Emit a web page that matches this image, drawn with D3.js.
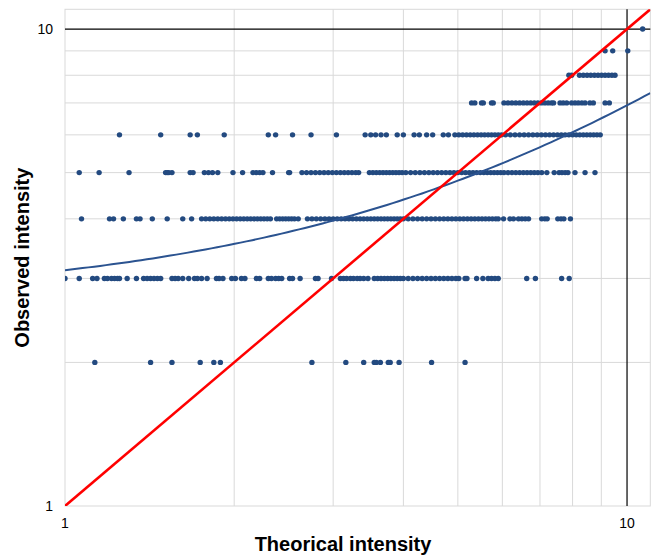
<!DOCTYPE html>
<meta charset="utf-8">
<style>
  body { margin: 0; background: #fff; }
  text { font-family: "Liberation Sans", Arial, sans-serif; fill: #000; }
  .tick { font-size: 14px; }
  .title { font-size: 20px; font-weight: bold; }
</style>
<body>
<script src="https://cdn.jsdelivr.net/npm/d3@7"></script>
<script>

// observed intensity levels and the theorical intensities seen at each level
var obs2 = [1.13, 1.42, 1.55, 1.74, 1.84, 1.89, 2.75, 3.16, 3.40, 3.55, 3.58, 3.64, 3.76, 3.79, 3.93, 4.49, 5.15];

var obs3 = [1.00, 1.06, 1.12, 1.14, 1.175, 1.19, 1.21, 1.225, 1.24, 1.25, 1.29, 1.34, 1.38, 1.40, 1.42, 1.44, 1.46, 1.48,
  1.55, 1.57, 1.59, 1.62, 1.66, 1.70, 1.72, 1.75, 1.79, 1.86, 1.88, 1.91, 1.98, 2.01, 2.06, 2.09, 2.19, 2.22,
  2.30, 2.33, 2.37, 2.40, 2.43, 2.51, 2.54, 2.62, 2.79, 2.82, 2.98, 3.09, 3.13, 3.17, 3.22, 3.26, 3.31, 3.35,
  3.40, 3.46, 3.55, 3.60, 3.65, 3.70, 3.75, 3.80, 3.85, 3.90, 3.95, 4.00, 4.08, 4.16, 4.24, 4.32, 4.40, 4.48,
  4.56, 4.64, 4.72, 4.80, 4.88, 4.96, 5.02, 5.15, 5.19, 5.40, 5.54, 5.66, 5.74, 5.82, 5.90, 6.63, 6.87, 7.65, 7.89];

var obs4 = [1.07, 1.20, 1.22, 1.27, 1.34, 1.36, 1.43, 1.52, 1.62, 1.68,
  1.75, 1.78, 1.81, 1.84, 1.87, 1.90, 1.93, 1.96, 1.99, 2.02, 2.05, 2.08, 2.11, 2.14, 2.17, 2.20, 2.23, 2.26, 2.29, 2.32,
  2.38, 2.41, 2.44, 2.47, 2.50, 2.53, 2.56, 2.60,
  2.70, 2.75, 2.80, 2.85, 2.90, 2.95, 3.00, 3.05, 3.10, 3.15, 3.20, 3.25, 3.30, 3.35, 3.40, 3.45, 3.50, 3.55,
  3.60, 3.65, 3.70, 3.75, 3.80, 3.85, 3.90, 3.95, 4.00,
  4.08, 4.16, 4.24, 4.32, 4.40, 4.48, 4.56, 4.64, 4.72, 4.80, 4.88, 4.96, 5.04, 5.12, 5.20, 5.28, 5.36, 5.44,
  5.52, 5.60, 5.68, 5.76, 5.84, 5.90,
  6.03, 6.19, 6.28, 6.41, 6.50, 6.59, 6.68, 7.05, 7.14, 7.21, 7.53, 7.63, 7.72, 7.93];

var obs5 = [1.06, 1.15, 1.30, 1.51, 1.52, 1.53, 1.55, 1.67, 1.69, 1.77, 1.80, 1.83, 1.87, 1.99, 2.07, 2.16, 2.19,
  2.22, 2.25, 2.34, 2.50, 2.51,
  2.64, 2.69, 2.74, 2.79, 2.84, 2.89, 2.94, 2.99, 3.04, 3.09, 3.14, 3.19, 3.24, 3.29, 3.33,
  3.48, 3.53, 3.58, 3.63, 3.68, 3.73, 3.78, 3.83, 3.88, 3.93, 3.98,
  4.04, 4.12, 4.20, 4.28, 4.36, 4.44, 4.52, 4.60, 4.68, 4.76, 4.84, 4.92, 5.00, 5.08, 5.16, 5.24, 5.32, 5.40,
  5.48, 5.56, 5.64, 5.72, 5.80, 5.88, 5.96, 6.04,
  6.14, 6.24, 6.34, 6.44, 6.54, 6.64, 6.74, 6.84,
  6.94, 7.05, 7.20, 7.42, 7.57, 7.66, 7.76, 7.85, 8.08, 8.42, 8.77];

var obs6 = [1.25, 1.48, 1.67, 1.72, 1.92, 2.30, 2.37, 2.54, 2.74, 3.04, 3.42, 3.50, 3.57, 3.65, 3.73, 3.90, 4.00,
  4.18, 4.27, 4.40, 4.51, 4.71, 4.81,
  4.94, 5.02, 5.10, 5.18, 5.26, 5.34, 5.42, 5.50, 5.58, 5.66, 5.74, 5.82, 5.90, 5.98,
  6.08, 6.20, 6.32, 6.44, 6.56, 6.68, 6.80, 6.92, 7.04, 7.16, 7.28, 7.40, 7.52, 7.64, 7.76, 7.88, 8.00,
  8.12, 8.24, 8.36, 8.48, 8.60, 8.72, 8.84, 8.96];

var obs7 = [5.29, 5.36, 5.51, 5.55, 5.74, 5.78,
  6.04, 6.14, 6.24, 6.34, 6.44, 6.54, 6.64, 6.74, 6.84, 6.94, 7.04, 7.14, 7.24, 7.34, 7.40,
  7.60, 7.70, 7.81, 7.97, 8.08, 8.19, 8.31, 8.42, 8.59, 8.71, 9.14, 9.30];

var obs8 = [7.88, 7.97, 8.23, 8.36, 8.49, 8.62, 8.75, 8.88, 9.01, 9.14, 9.27, 9.40, 9.52];
var obs9 = [9.14, 9.43, 10.03];
var obs10 = [10.66];

var levels = [2, 3, 4, 5, 6, 7, 8, 9, 10];
var rows = [obs2, obs3, obs4, obs5, obs6, obs7, obs8, obs9, obs10];

// linear trend line of observed vs theorical (y = a + b*x)
var trendIntercept = 2.70;
var trendSlope = 0.422;

var gridValues = [2, 3, 4, 5, 6, 7, 8, 9];
var tickValues = [1, 10];
var domainMax = 11;

var width = 671, height = 557;
var plot = {left: 65, right: 650.3, top: 9.3, bottom: 506};

var svg = d3.select("body").append("svg")
    .attr("width", width)
    .attr("height", height);

var x = d3.scaleLog().domain([1, domainMax]).range([plot.left, plot.right]);
var y = d3.scaleLog().domain([1, domainMax]).range([plot.bottom, plot.top]);

svg.append("clipPath").attr("id", "plotclip")
  .append("rect")
    .attr("x", plot.left).attr("y", plot.top)
    .attr("width", plot.right - plot.left).attr("height", plot.bottom - plot.top);

// grid
svg.append("g").selectAll("line.v")
    .data(gridValues).enter().append("line")
    .attr("x1", d => x(d)).attr("x2", d => x(d))
    .attr("y1", plot.top).attr("y2", plot.bottom)
    .style("stroke", "#d9d9d9").style("stroke-width", 1);

svg.append("g").selectAll("line.h")
    .data(gridValues).enter().append("line")
    .attr("y1", d => y(d)).attr("y2", d => y(d))
    .attr("x1", plot.left).attr("x2", plot.right)
    .style("stroke", "#d9d9d9").style("stroke-width", 1);

// frame
svg.append("rect")
    .attr("x", plot.left).attr("y", plot.top)
    .attr("width", plot.right - plot.left).attr("height", plot.bottom - plot.top)
    .style("fill", "none").style("stroke", "#d9d9d9").style("stroke-width", 1);

// the 10 lines are darker
svg.append("line")
    .attr("x1", x(10)).attr("x2", x(10)).attr("y1", plot.top).attr("y2", plot.bottom)
    .style("stroke", "#000").style("stroke-width", 1.2);
svg.append("line")
    .attr("y1", y(10)).attr("y2", y(10)).attr("x1", plot.left).attr("x2", plot.right)
    .style("stroke", "#000").style("stroke-width", 1.2);

// tick labels
svg.append("g").selectAll("text")
    .data(tickValues).enter().append("text")
    .attr("class", "tick")
    .attr("x", d => x(d)).attr("y", plot.bottom + 22)
    .attr("text-anchor", "middle")
    .text(d => d);

svg.append("g").selectAll("text")
    .data(tickValues).enter().append("text")
    .attr("class", "tick")
    .attr("x", plot.left - 12).attr("y", d => y(d) + 5)
    .attr("text-anchor", "end")
    .text(d => d);

// points
var points = [];
rows.forEach(function (r, i) {
  r.forEach(function (v) { points.push({x: v, y: levels[i]}); });
});

var g = svg.append("g").attr("clip-path", "url(#plotclip)");

g.selectAll("circle")
    .data(points).enter().append("circle")
    .attr("cx", d => x(d.x))
    .attr("cy", d => y(d.y))
    .attr("r", 2.7)
    .style("fill", "#234a80");

// trend line
var trendX = d3.range(0, 101).map(i => Math.pow(domainMax, i / 100));
var trend = d3.line()
    .x(d => x(d))
    .y(d => y(trendIntercept + trendSlope * d));

g.append("path")
    .datum(trendX)
    .attr("d", trend)
    .style("fill", "none")
    .style("stroke", "#2b5390")
    .style("stroke-width", 2);

// identity line
g.append("line")
    .attr("x1", x(1)).attr("y1", y(1))
    .attr("x2", x(domainMax)).attr("y2", y(domainMax))
    .style("stroke", "#ff0000")
    .style("stroke-width", 2.6);

// axis titles
svg.append("text")
    .attr("class", "title")
    .attr("x", 343).attr("y", 551)
    .attr("text-anchor", "middle")
    .text("Theorical intensity");

svg.append("text")
    .attr("class", "title")
    .attr("transform", "translate(29," + ((plot.top + plot.bottom) / 2) + ") rotate(-90)")
    .attr("text-anchor", "middle")
    .text("Observed intensity");

</script>
</body>
